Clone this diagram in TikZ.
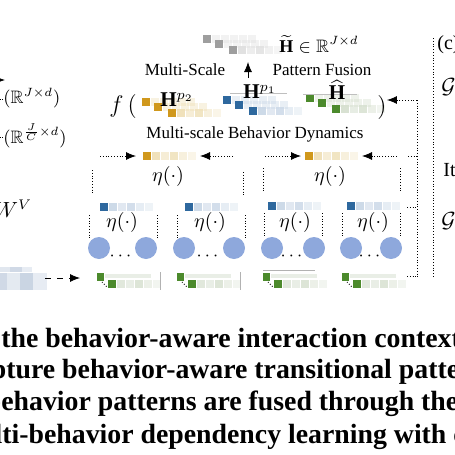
\documentclass[tikz,border=0pt]{standalone}
\usepackage{amsmath,amssymb}
\usepackage{fontspec}
\setmainfont{Liberation Serif}
\usetikzlibrary{arrows.meta, positioning, calc}

\definecolor{orgD}{RGB}{208,152,28}
\definecolor{orgL}{RGB}{238,222,180}
\definecolor{bluD}{RGB}{46,104,158}
\definecolor{bluL}{RGB}{200,214,230}
\definecolor{grnD}{RGB}{76,138,44}
\definecolor{grnL}{RGB}{212,222,205}
\definecolor{gryD}{RGB}{158,158,158}
\definecolor{gryL}{RGB}{222,222,222}
\definecolor{nodeBlue}{RGB}{142,168,220}
\definecolor{mtxL}{RGB}{196,208,224}

\newcommand{\sqrow}[4]{%
  \fill[#3] (#1,#2) rectangle ++(8,8);
  \foreach \k/\o in {0/.9,1/.55,2/.8,3/.45,4/.3}
    \fill[#4, fill opacity=\o] ({#1+9+\k*9},#2) rectangle ++(8,8);
}
\newcommand{\stair}[4]{%
  \foreach \k in {0,...,4} \fill[#4, fill opacity=.4] ({#1+9+\k*9},#2) rectangle ++(8,8);
  \foreach \k in {0,...,4} \fill[#4, fill opacity=.4] ({#1+21+\k*9},{#2+5}) rectangle ++(8,8);
  \fill[#3] (#1,#2) rectangle ++(8,8);
  \fill[#3] ({#1+12},{#2+5}) rectangle ++(8,8);
  \sqrow{#1+26}{#2+11}{#3}{#4}
}
\newcommand{\greenrow}[1]{%
  \fill[grnL, fill opacity=.5] ({#1+8},274) rectangle ++(46,4);
  \fill[grnD] (#1,273) rectangle ++(7,8);
  \draw[densely dotted, line width=0.4pt] ({#1+5},282) -- ({#1+10},287);
  \fill[grnD] ({#1+11},280) rectangle ++(8,8);
  \foreach \k/\o in {0/.7,1/.5,2/.8,3/.45,4/.3}
    \fill[grnL, fill opacity=\o] ({#1+20+\k*9},280) rectangle ++(8,8);
}

\begin{document}
\begin{tikzpicture}[x=0.5pt, y=-0.5pt,
    lbl/.style={font=\fontsize{8.5}{10}\selectfont, inner sep=0},
    mth/.style={font=\fontsize{9}{10}\selectfont, inner sep=0},
    hlbl/.style={font=\fontsize{10.5}{12}\selectfont, inner sep=0},
    eta/.style={font=\fontsize{10}{11}\selectfont, inner sep=0},
    captxt/.style={font=\fontsize{13.9}{16}\selectfont\bfseries, inner sep=0, anchor=base west},
    bub/.style={circle, fill=nodeBlue, minimum size=11pt, inner sep=0},
    dotl/.style={densely dotted, line width=0.4pt},
    tip/.style={-{Latex[length=5pt,width=4pt]}}]
    \useasboundingbox (0,0) rectangle (455,455);
    \clip (0,0) rectangle (455,455);

    % left edge
    \draw[tip] (-12,80) -- (5,80);
    \draw[dotl] (-6,99) -- (3,99);
    \draw[dotl] (-6,137) -- (3,137);
    \node[mth, anchor=west] (rjd) at (3,98) {$(\mathbb{R}^{J\times d})$};
    \node[mth, anchor=west] (rjc) at (3,136) {$(\mathbb{R}^{\frac{J}{C}\times d})$};
    \node[font=\fontsize{10.5}{11}\selectfont, inner sep=0, anchor=west] (wv) at (-6,209) {$W^V$};
    \fill[mtxL, fill opacity=.8] (-8,273) rectangle (7,290);
    \fill[mtxL, fill opacity=.45] (7,273) rectangle (20,290);
    \fill[mtxL, fill opacity=.9] (20,273) rectangle (33,290);
    \fill[mtxL, fill opacity=.4] (33,273) rectangle (47,290);
    \fill[mtxL, fill opacity=.5] (-8,267) rectangle (10,272);
    \fill[mtxL, fill opacity=.8] (10,267) rectangle (22,272);
    \fill[mtxL, fill opacity=.4] (22,267) rectangle (32,272);
    \coordinate (mtx) at (45,278);
    \coordinate (g1in) at (80,278);
    \draw[dashed, tip] (mtx) -- (g1in);

    % multi-scale pattern fusion
    \stair{203}{35}{gryD}{gryL}
    \stair{142}{98}{orgD}{orgL}
    \stair{223}{96}{bluD}{bluL}
    \stair{306}{94}{grnD}{grnL}
    \draw[gray!50, line width=0.3pt] (230,93) -- (287,93);
    \draw[gray!50, line width=0.3pt] (303,94) -- (357,94);
    \node[mth] (hti) at (319,44) {$\widetilde{\mathbf{H}}\in\mathbb{R}^{J\times d}$};
    \node[lbl] (msc) at (185,70) {Multi-Scale};
    \node[lbl] (pfu) at (322,70) {Pattern Fusion};
    \coordinate (upb) at (248,78);
    \coordinate (upt) at (248,62);
    \draw[tip] (upb) -- (upt);
    \node[font=\fontsize{13}{14}\selectfont, inner sep=0] (fop) at (123,106) {$f\,($};
    \node[font=\fontsize{13}{14}\selectfont, inner sep=0] (fcl) at (382,107) {$)$};
    \node[hlbl] (hp2) at (177,100) {$\mathbf{H}^{p_2}$};
    \node[hlbl] (hp1) at (260,92) {$\mathbf{H}^{p_1}$};
    \node[hlbl] (hha) at (337,90) {$\widehat{\mathbf{H}}$};
    \node[lbl] (mbd) at (255,134) {Multi-scale Behavior Dynamics};

    % upper aggregation
    \sqrow{143}{152}{orgD}{orgL}
    \sqrow{305}{152}{orgD}{orgL}
    \node[eta] (eo1) at (168,176) {$\eta(\cdot)$};
    \node[eta] (eo2) at (330,176) {$\eta(\cdot)$};
    \draw[dotl, tip] (100,156) -- (136,156);
    \draw[dotl, tip] (233,156) -- (200,156);
    \draw[dotl, tip] (265,156) -- (301,156);
    \draw[dotl, tip] (397,156) -- (362,156);
    \draw[dotl] (92,170) -- (92,195);
    \draw[dotl] (243,172) -- (243,195);
    \draw[dotl] (263,168) -- (263,193);
    \draw[dotl] (400,168) -- (400,193);

    % behavior groups
    \sqrow{100}{203}{bluD}{bluL}
    \sqrow{185}{203}{bluD}{bluL}
    \sqrow{268}{202}{bluD}{bluL}
    \sqrow{347}{202}{bluD}{bluL}
    \node[eta] (eb1) at (122,222) {$\eta(\cdot)$};
    \node[eta] (eb2) at (210,222) {$\eta(\cdot)$};
    \node[eta] (eb3) at (295,222) {$\eta(\cdot)$};
    \node[eta] (eb4) at (373,222) {$\eta(\cdot)$};
    \draw[dotl] (89,215) -- (89,240);
    \draw[dotl] (157,215) -- (157,240);
    \draw[dotl] (177,215) -- (177,240);
    \draw[dotl] (245,215) -- (245,240);
    \draw[dotl] (264,213) -- (264,236);
    \draw[dotl] (322,213) -- (322,236);
    \draw[dotl] (342,213) -- (342,236);
    \draw[dotl] (400,213) -- (400,236);
    \node[bub] (b1l) at (99,248) {};
    \node[bub] (b1r) at (146,248) {};
    \node[bub] (b2l) at (184,248) {};
    \node[bub] (b2r) at (234,248) {};
    \node[bub] (b3l) at (272,248) {};
    \node[bub] (b3r) at (314,248) {};
    \node[bub] (b4l) at (351,248) {};
    \node[bub] (b4r) at (391,248) {};
    \node[mth] (d1) at (122,256) {$\cdots$};
    \node[mth] (d2) at (209,256) {$\cdots$};
    \node[mth] (d3) at (293,256) {$\cdots$};
    \node[mth] (d4) at (371,256) {$\cdots$};

    % behavior embeddings
    \greenrow{97}
    \greenrow{177}
    \greenrow{263}
    \greenrow{342}
    \draw[gray!60, line width=0.3pt] (160,272) -- (160,290);
    \draw[gray!60, line width=0.3pt] (240,272) -- (240,290);
    \draw[gray!60, line width=0.3pt] (263,270) -- (315,270);

    % feedback
    \coordinate (fbt) at (417,100);
    \coordinate (fbb) at (417,277);
    \draw[dotl, tip] (fbt) -- (fcl.east |- fbt);
    \draw[dotl] (fbt) -- (fbb);
    \draw[dotl] (408,156) -- (417,156);
    \draw[dotl] (407,207) -- (417,207);
    \draw[dotl] (407,276) -- (417,276);

    % panel (c)
    \draw[dotl] (433,38) -- (433,277);
    \node[font=\fontsize{10}{11}\selectfont, inner sep=0, anchor=west] (pc) at (437,45) {(c)};
    \node[font=\fontsize{11}{12}\selectfont, inner sep=0, anchor=west] (g1) at (441,87) {$\mathcal{G}$};
    \node[font=\fontsize{10}{11}\selectfont, inner sep=0, anchor=west] (it) at (443,170) {Iterative};
    \node[font=\fontsize{11}{12}\selectfont, inner sep=0, anchor=west] (g2) at (441,221) {$\mathcal{G}$};

    % caption
    \node[captxt] (l1) at (1,347) {the behavior-aware interaction context of};
    \node[captxt] (l2) at (6,378) {\llap{cap}ture behavior-aware transitional patterns};
    \node[captxt] (l3) at (1,410) {\llap{b}ehavior patterns are fused through the};
    \node[captxt] (l4) at (2,443) {\llap{mul}ti-behavior dependency learning with contrastive};
\end{tikzpicture}
\end{document}
